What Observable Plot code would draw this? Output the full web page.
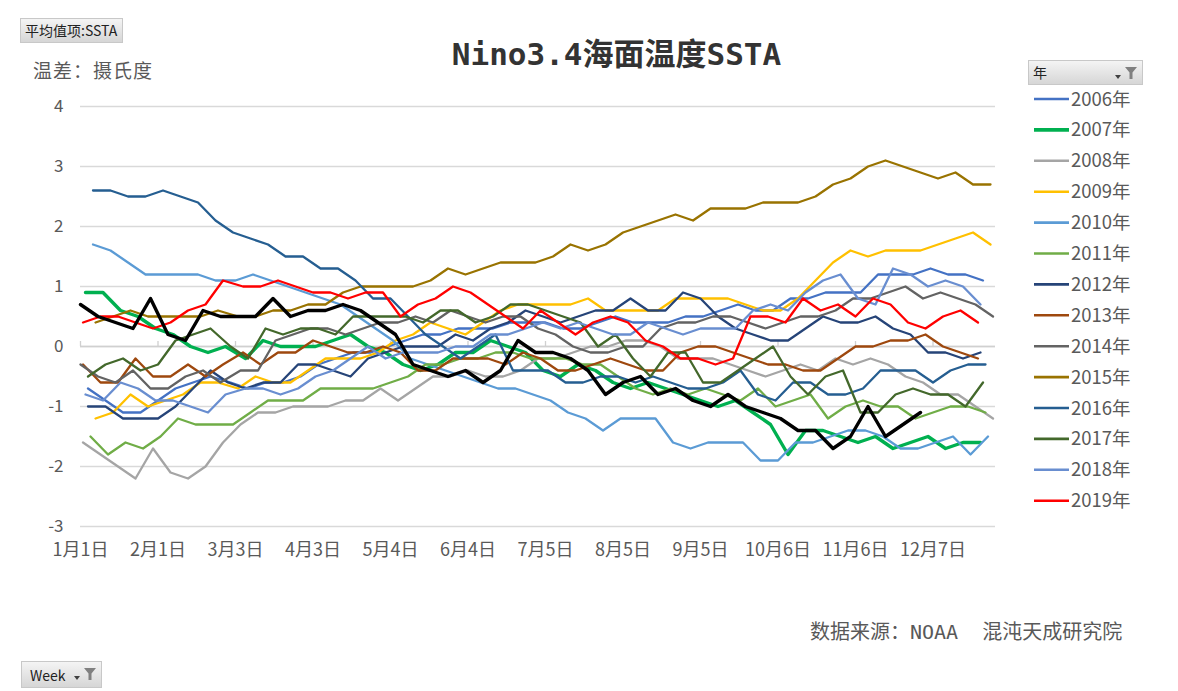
<!DOCTYPE html>
<html><head><meta charset="utf-8">
<script src="https://cdn.jsdelivr.net/npm/d3@7"></script>
<script src="https://cdn.jsdelivr.net/npm/@observablehq/plot@0.6"></script>
<style>
body{margin:0;background:#fff;}
#chart{position:relative;width:1178px;height:691px;overflow:hidden;background:#fff;font-family:"Noto Sans CJK SC","DejaVu Sans",sans-serif;}
.abs{position:absolute;}
.btn{position:absolute;background:linear-gradient(#f4f4f4,#d6d6d6);border:1px solid #c8c8c8;box-sizing:border-box;color:#222;font-size:14px;line-height:22px;padding-left:4px;}
#title{left:0;width:1233px;top:36px;text-align:center;font-family:"DejaVu Sans Mono","Noto Sans CJK SC",monospace;font-size:31px;font-weight:bold;color:#333;line-height:36px;}
#ylab{left:33px;top:56px;font-size:19px;color:#595959;font-family:"Noto Sans CJK SC",serif;letter-spacing:1px;}
#src{left:810px;top:616px;font-size:20px;color:#595959;font-family:"DejaVu Sans Mono","Noto Sans CJK SC",monospace;white-space:pre;}
#plot{left:0;top:0;}
</style></head><body><div id="chart"></div><script>
// ---- data ----
const years = ["2006年","2007年","2008年","2009年","2010年","2011年","2012年","2013年","2014年","2015年","2016年","2017年","2018年","2019年"];
const colors = ["#4472C4","#00B050","#A5A5A5","#FFC000","#5B9BD5","#70AD47","#264478","#9E480E","#636363","#997300","#255E91","#43682B","#698ED0","#FF0000"];
const actualYears = [2006,2007,2008,2009,2010,2011,2012,2013,2014,2015,2016,2017,2018,2019];
// first weekly date (Wednesday) of each year, month-day
const startDays = ["01-04","01-03","01-02","01-07","01-06","01-05","01-04","01-02","01-01","01-07","01-06","01-04","01-03","01-02"];
const v2006 = [-0.7,-0.9,-1.1,-1.1,-0.9,-0.7,-0.6,-0.5,-0.6,-0.7,-0.6,-0.6,-0.5,-0.3,-0.2,-0.1,-0.1,0.0,0.1,0.2,0.2,0.3,0.3,0.3,0.4,0.4,0.4,0.3,0.3,0.4,0.5,0.4,0.4,0.4,0.5,0.5,0.6,0.7,0.6,0.6,0.8,0.8,0.9,0.9,0.9,1.2,1.2,1.2,1.3,1.2,1.2,1.1];
const v2007 = [0.9,0.9,0.6,0.5,0.3,0.2,0.0,-0.1,0.0,-0.2,0.1,0.0,0.0,0.0,0.1,0.2,0.0,-0.1,-0.3,-0.4,-0.3,-0.1,-0.1,0.1,0.0,-0.1,-0.4,-0.5,-0.3,-0.4,-0.6,-0.7,-0.6,-0.7,-0.8,-0.9,-1.0,-0.9,-1.1,-1.3,-1.8,-1.4,-1.4,-1.5,-1.6,-1.5,-1.7,-1.6,-1.5,-1.7,-1.6,-1.6];
const v2008 = [-1.6,-1.8,-2.0,-2.2,-1.7,-2.1,-2.2,-2.0,-1.6,-1.3,-1.1,-1.1,-1.0,-1.0,-1.0,-0.9,-0.9,-0.7,-0.9,-0.7,-0.5,-0.5,-0.4,-0.5,-0.5,-0.4,-0.2,-0.2,-0.1,0.0,0.0,0.1,0.1,0.0,-0.2,-0.2,-0.2,-0.3,-0.4,-0.5,-0.4,-0.3,-0.4,-0.2,-0.3,-0.2,-0.3,-0.5,-0.6,-0.8,-0.8,-1.0,-1.2];
const v2009 = [-1.2,-1.1,-0.8,-1.0,-0.9,-0.8,-0.6,-0.6,-0.7,-0.5,-0.6,-0.6,-0.4,-0.2,-0.2,-0.2,-0.1,0.1,0.2,0.4,0.3,0.2,0.4,0.6,0.7,0.7,0.7,0.7,0.8,0.6,0.6,0.6,0.6,0.8,0.8,0.8,0.8,0.7,0.6,0.6,0.8,1.1,1.4,1.6,1.5,1.6,1.6,1.6,1.7,1.8,1.9,1.7];
const v2010 = [1.7,1.6,1.4,1.2,1.2,1.2,1.2,1.1,1.1,1.2,1.1,1.0,0.9,0.8,0.7,0.5,0.3,0.1,-0.2,-0.3,-0.4,-0.5,-0.6,-0.7,-0.7,-0.8,-0.9,-1.1,-1.2,-1.4,-1.2,-1.2,-1.2,-1.6,-1.7,-1.6,-1.6,-1.6,-1.9,-1.9,-1.6,-1.6,-1.5,-1.4,-1.4,-1.5,-1.7,-1.7,-1.6,-1.5,-1.8,-1.5];
const v2011 = [-1.5,-1.8,-1.6,-1.7,-1.5,-1.2,-1.3,-1.3,-1.3,-1.1,-0.9,-0.9,-0.9,-0.7,-0.7,-0.7,-0.7,-0.6,-0.5,-0.3,-0.3,-0.2,-0.2,-0.1,-0.1,-0.2,-0.2,-0.2,-0.3,-0.3,-0.5,-0.7,-0.8,-0.7,-0.8,-0.7,-0.8,-0.9,-0.7,-1.0,-0.9,-0.8,-1.2,-1.0,-0.9,-1.0,-1.0,-1.2,-1.1,-1.0,-1.0,-1.1];
const v2012 = [-1.0,-1.0,-1.2,-1.2,-1.2,-1.0,-0.7,-0.4,-0.6,-0.7,-0.6,-0.6,-0.3,-0.3,-0.4,-0.5,-0.2,-0.1,0.0,0.0,0.0,0.2,0.1,0.3,0.4,0.6,0.5,0.4,0.5,0.6,0.6,0.8,0.6,0.6,0.9,0.8,0.5,0.3,0.2,0.1,0.1,0.3,0.5,0.4,0.4,0.5,0.3,0.2,-0.1,-0.1,-0.2,-0.1];
const v2013 = [-0.3,-0.6,-0.6,-0.2,-0.5,-0.5,-0.3,-0.5,-0.3,-0.1,-0.3,-0.1,-0.1,0.1,0.0,-0.1,-0.1,0.0,-0.1,-0.4,-0.4,-0.2,-0.2,-0.2,-0.3,-0.1,-0.2,-0.4,-0.4,-0.3,-0.2,-0.3,-0.4,-0.4,-0.1,0.0,0.0,-0.1,-0.2,-0.3,-0.3,-0.4,-0.4,-0.2,0.0,0.0,0.1,0.1,0.2,0.0,-0.1,-0.2];
const v2014 = [-0.3,-0.5,-0.6,-0.4,-0.7,-0.7,-0.5,-0.4,-0.6,-0.4,-0.4,0.1,0.2,0.3,0.3,0.2,0.3,0.4,0.4,0.5,0.4,0.6,0.5,0.4,0.5,0.5,0.3,0.2,0.0,-0.1,-0.1,0.0,0.0,0.3,0.4,0.4,0.5,0.5,0.4,0.3,0.4,0.5,0.5,0.6,0.8,0.8,0.9,1.0,0.8,0.9,0.8,0.7,0.5];
const v2015 = [0.4,0.5,0.6,0.5,0.5,0.5,0.5,0.6,0.5,0.5,0.6,0.6,0.7,0.7,0.9,1.0,1.0,1.0,1.0,1.1,1.3,1.2,1.3,1.4,1.4,1.4,1.5,1.7,1.6,1.7,1.9,2.0,2.1,2.2,2.1,2.3,2.3,2.3,2.4,2.4,2.4,2.5,2.7,2.8,3.0,3.1,3.0,2.9,2.8,2.9,2.7,2.7];
const v2016 = [2.6,2.6,2.5,2.5,2.6,2.5,2.4,2.1,1.9,1.8,1.7,1.5,1.5,1.3,1.3,1.1,0.8,0.8,0.5,0.2,0.0,-0.2,0.0,0.2,-0.4,-0.4,-0.4,-0.6,-0.6,-0.5,-0.5,-0.6,-0.5,-0.6,-0.7,-0.7,-0.6,-0.4,-0.8,-0.9,-0.6,-0.6,-0.8,-0.8,-0.7,-0.4,-0.4,-0.4,-0.6,-0.4,-0.3,-0.3];
const v2017 = [-0.5,-0.3,-0.2,-0.4,-0.3,0.1,0.2,0.3,0.0,-0.2,0.3,0.2,0.3,0.3,0.2,0.5,0.5,0.5,0.5,0.4,0.6,0.6,0.4,0.5,0.7,0.7,0.6,0.5,0.4,0.0,0.2,-0.2,-0.5,-0.1,-0.1,-0.6,-0.6,-0.4,-0.2,0.0,-0.5,-0.8,-0.5,-0.4,-1.1,-1.1,-0.8,-0.7,-0.8,-0.8,-1.0,-0.6];
const v2018 = [-0.8,-0.9,-0.6,-0.7,-0.9,-0.9,-1.0,-1.1,-0.8,-0.7,-0.7,-0.8,-0.7,-0.5,-0.4,-0.2,0.0,-0.2,-0.1,-0.1,-0.1,0.0,0.0,0.2,0.2,0.3,0.4,0.3,0.4,0.3,0.2,0.2,0.4,0.3,0.2,0.3,0.3,0.3,0.6,0.7,0.6,0.9,1.1,1.2,0.8,0.7,1.3,1.2,1.0,1.1,1.0,0.7];
const v2019 = [0.4,0.5,0.5,0.4,0.3,0.4,0.6,0.7,1.1,1.0,1.0,1.1,1.0,0.9,0.9,0.8,0.9,0.9,0.5,0.7,0.8,1.0,0.9,0.7,0.5,0.3,0.6,0.4,0.2,0.4,0.5,0.4,0.1,0.0,-0.2,-0.2,-0.3,-0.2,0.5,0.5,0.4,0.8,0.6,0.7,0.5,0.8,0.7,0.4,0.3,0.5,0.6,0.4];
// current year (black, not in legend)
const currentYear = 2020;
const currentStart = "01-01";
const v2020 = [0.7,0.5,0.4,0.3,0.8,0.2,0.1,0.6,0.5,0.5,0.5,0.8,0.5,0.6,0.6,0.7,0.6,0.4,0.2,-0.3,-0.4,-0.5,-0.4,-0.6,-0.4,0.1,-0.1,-0.1,-0.2,-0.4,-0.8,-0.6,-0.5,-0.8,-0.7,-0.9,-1.0,-0.8,-1.0,-1.1,-1.2,-1.4,-1.4,-1.7,-1.5,-1.0,-1.5,-1.3,-1.1];
const seriesValues = [v2006,v2007,v2008,v2009,v2010,v2011,v2012,v2013,v2014,v2015,v2016,v2017,v2018,v2019];
const xTickLabels = ["1月1日","2月1日","3月3日","4月3日","5月4日","6月4日","7月5日","8月5日","9月5日","10月6日","11月6日","12月7日"];
const yTicks = [-3,-2,-1,0,1,2,3,4];

// ---- build table (dates mapped onto a common leap year, as in the source workbook) ----
const baseYear = 2020;
function weekDates(year, start, n){
  const [m,d] = start.split("-").map(Number);
  return d3.range(n).map(i=>{
    const t = new Date(Date.UTC(year, m-1, d + 7*i));
    return new Date(Date.UTC(baseYear, t.getUTCMonth(), t.getUTCDate()));
  });
}
const rows = [];
seriesValues.forEach((vals, s)=>{
  const ds = weekDates(actualYears[s], startDays[s], vals.length);
  vals.forEach((v,i)=>rows.push({year: years[s], date: ds[i], value: v}));
});
const curRows = weekDates(currentYear, currentStart, v2020.length).map((d,i)=>({year: currentYear+"年", date: d, value: v2020[i]}));
const tickDates = xTickLabels.map(s=>{const m=s.match(/(\d+)月(\d+)日/);return new Date(Date.UTC(baseYear,+m[1]-1,+m[2]));});
const labelOf = new Map(tickDates.map((d,i)=>[+d, xTickLabels[i]]));

const lineMarks = years.map((y,s)=>Plot.line(rows.filter(r=>r.year===y), {
  x:"date", y:"value", stroke: colors[s], strokeWidth: y==="2007年" ? 3.4 : 2.3, strokeLinejoin:"round", strokeLinecap:"round"
}));

const plot = Plot.plot({
  width: 1010, height: 580,
  marginLeft: 80, marginRight: 15, marginTop: 106, marginBottom: 54,
  x: {type:"utc", domain:[new Date(Date.UTC(baseYear,0,1)), new Date(Date.UTC(baseYear+1,0,1))]},
  y: {domain:[-3,4]},
  style: {fontFamily:"'Noto Sans CJK SC','DejaVu Sans',sans-serif", color:"#595959", background:"transparent"},
  marks: [
    Plot.gridY(yTicks, {stroke:"#d9d9d9", strokeOpacity:1, strokeWidth:1.3}),
    Plot.ruleY([0], {stroke:"#d0d0d0", strokeWidth:1.3}),
    Plot.ruleX(tickDates, {x:d=>d, y1:0, y2:0, insetTop:-5, stroke:"#d0d0d0", strokeWidth:1.3}),
    Plot.axisY({ticks: yTicks, tickSize:0, tickPadding:17, fontSize:17, tickFormat:d=>String(d), label:null}),
    Plot.axisX({ticks: tickDates, tickSize:0, tickPadding:17, fontSize:18, tickFormat:d=>labelOf.get(+d), label:null}),
    ...lineMarks,
    Plot.line(curRows, {x:"date", y:"value", stroke:"#000", strokeWidth:3.4, strokeLinejoin:"round"})
  ]
});

// ---- layout ----
const chart = document.getElementById("chart");
plot.classList.add("abs"); plot.id = "plot";
chart.appendChild(plot);

function el(tag, cls, id, html){const e=document.createElement(tag); if(cls) e.className=cls; if(id) e.id=id; if(html!=null) e.innerHTML=html; chart.appendChild(e); return e;}
el("div","abs","title","Nino3.4海面温度SSTA");
el("div","abs","ylab","温差：摄氏度");
el("div","abs","src","数据来源：NOAA  混沌天成研究院");

const funnel = '<svg width="14" height="14" style="position:absolute;right:4px;top:5px"><path d="M1 1 H13 L8.5 6.5 V13 H5.5 V6.5 Z" fill="#808080"/></svg><svg width="6" height="4" style="position:absolute;right:21px;top:14px"><path d="M0 0 H6 L3 4 Z" fill="#404040"/></svg>';
const b1 = el("div","btn",null,"平均值项:SSTA"); Object.assign(b1.style,{left:"20px",top:"18px",width:"103px",height:"25px"});
const b2 = el("div","btn",null,"Week"+funnel); Object.assign(b2.style,{left:"21px",top:"661px",width:"81px",height:"27px",lineHeight:"26px",paddingLeft:"8px"});
const b3 = el("div","btn",null,"年"+funnel); Object.assign(b3.style,{left:"1028px",top:"60px",width:"115px",height:"25px"});

// legend
const lg = d3.select(chart).append("svg").attr("class","abs").style("left","1025px").style("top","80px").attr("width",150).attr("height",440);
years.forEach((y,i)=>{
  const cy = 19 + i*30.9;
  lg.append("line").attr("x1",9).attr("x2",44).attr("y1",cy).attr("y2",cy).attr("stroke",colors[i]).attr("stroke-width", y==="2007年"?3.6:2.6);
  lg.append("text").attr("x",46).attr("y",cy+6.5).text(y).attr("fill","#595959").attr("font-size",18.5).attr("font-family","'Noto Sans CJK SC','DejaVu Sans',sans-serif");
});
</script></body></html>
